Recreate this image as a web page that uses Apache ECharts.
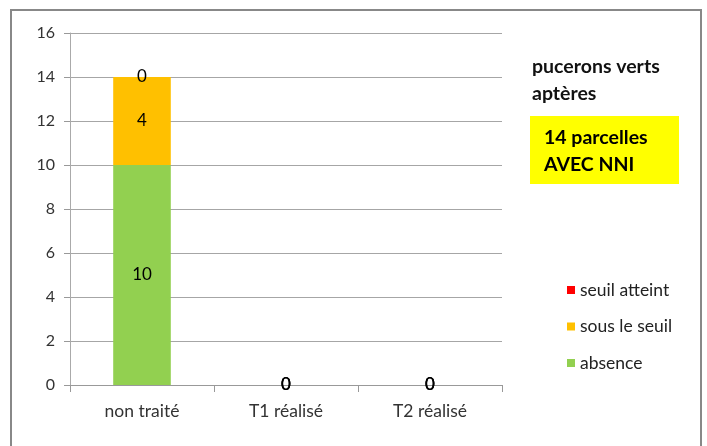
<!DOCTYPE html>
<html>
<head>
<meta charset="utf-8">
<script src="https://cdn.jsdelivr.net/npm/echarts@6/dist/echarts.min.js"></script>
<style>
html,body{margin:0;padding:0;background:#fff;}
#main{width:707px;height:446px;}
</style>
</head>
<body>
<div id="main"></div>
<script>
const categories = ['non traité', 'T1 réalisé', 'T2 réalisé'];
const absence = [10, 0, 0];
const sousLeSeuil = [4, 0, 0];
const seuilAtteint = [0, 0, 0];
const seriesNames = ['seuil atteint', 'sous le seuil', 'absence'];
const titleLines = ['pucerons verts', 'aptères'];
const boxLines = ['14 parcelles', 'AVEC NNI'];

const FONT = 'Lato';
const chart = echarts.init(document.getElementById('main'));
const lbl = {show: true, position: 'inside', fontSize: 17, color: '#000', fontFamily: FONT};
chart.setOption({
  animation: false,
  grid: {left: 70, right: 205, top: 33, bottom: 61},
  legend: {
    data: seriesNames,
    orient: 'vertical',
    left: 562, top: 275,
    itemWidth: 8, itemHeight: 8, itemGap: 16.5, icon: 'rect',
    textStyle: {fontSize: 17.5, color: '#222', fontFamily: FONT, lineHeight: 20}
  },
  xAxis: {
    type: 'category', data: categories,
    axisLine: {lineStyle: {color: '#999', width: 1}},
    axisTick: {show: true, length: 7, lineStyle: {color: '#999'}},
    axisLabel: {fontSize: 17.5, color: '#333', fontFamily: FONT, margin: 17}
  },
  yAxis: {
    type: 'value', min: 0, max: 16, interval: 2,
    axisLine: {show: true, lineStyle: {color: '#aaa'}},
    axisTick: {show: true, length: 6, lineStyle: {color: '#999'}},
    splitLine: {lineStyle: {color: '#a6a6a6'}},
    axisLabel: {fontSize: 16, color: '#333', fontFamily: FONT, margin: 15}
  },
  series: [
    {name: 'absence', type: 'bar', stack: 's', data: absence, barWidth: '40%', itemStyle: {color: '#92D050'}, label: lbl},
    {name: 'sous le seuil', type: 'bar', stack: 's', data: sousLeSeuil, itemStyle: {color: '#FFC000'}, label: lbl},
    {name: 'seuil atteint', type: 'bar', stack: 's', data: seuilAtteint, itemStyle: {color: '#FF0000'}, label: lbl}
  ],
  graphic: [
    {type: 'rect', shape: {x: 11, y: 10, width: 690, height: 460}, style: {fill: 'none', stroke: '#888', lineWidth: 2}, silent: true},
    {type: 'text', left: 532, top: 53, style: {text: titleLines.join('\n'), font: 'bold 19.5px ' + FONT, fill: '#111', lineHeight: 27}},
    {type: 'rect', shape: {x: 530, y: 116, width: 149, height: 68}, style: {fill: '#FFFF00'}},
    {type: 'text', left: 544, top: 124, style: {text: boxLines.join('\n'), font: 'bold 19.5px ' + FONT, fill: '#000', lineHeight: 27}}
  ]
});
</script>
</body>
</html>
